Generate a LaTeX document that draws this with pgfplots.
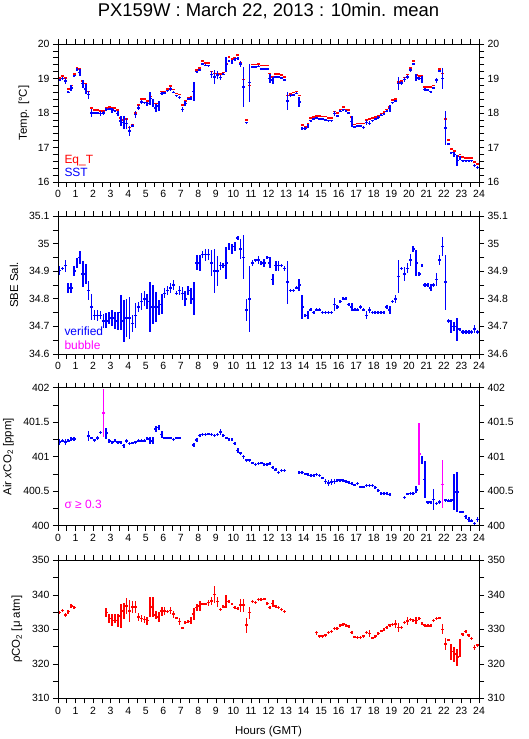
\documentclass[border=0pt]{standalone}
\usepackage{fontspec}
\setmainfont{Liberation Sans}
\usepackage{pgfplots}
\usepackage{pgfplotstable}
\pgfplotsset{compat=1.18}
\definecolor{pblue}{RGB}{0,0,255}
\definecolor{pred}{RGB}{255,0,0}
\definecolor{pmag}{RGB}{255,0,255}

\pgfplotstableread{
x sst esst eqt sal esal co2 eco2 co2m eco2m pco2 epco2
0.083 18.96 0.03 19.01 34.902 0.016 401.21 0.04 nan nan 334.8 0.4
0.250 19.00 0.03 19.07 34.91 0.006 401.23 0.02 nan nan 335.5 0.4
0.417 18.93 0.08 19.02 34.92 0.022 401.21 0.04 nan nan 334.1 0.5
0.583 18.60 0.03 18.70 34.84 0.018 401.23 0.02 nan nan 335.1 0.6
0.750 18.72 0.08 18.80 34.84 0.019 401.26 0.03 nan nan 336.8 0.5
0.917 19.08 0.03 19.13 34.90 0.018 401.26 0.03 nan nan 336.3 0.4
1.083 19.26 0.03 19.30 34.93 0.018 nan nan nan nan nan nan
1.250 19.17 0.10 19.27 34.95 0.024 nan nan nan nan nan nan
1.417 18.85 0.12 18.93 34.89 0.048 nan nan nan nan nan nan
1.583 18.70 0.15 18.85 34.89 0.036 nan nan nan nan nan nan
1.750 18.53 0.12 18.62 34.83 0.033 401.30 0.07 nan nan nan nan
1.917 18.00 0.12 18.15 34.77 0.048 401.27 0.02 nan nan nan nan
2.083 18.00 0.03 18.08 34.74 0.018 401.24 0.02 nan nan nan nan
2.250 18.00 0.03 18.08 34.74 0.020 401.27 0.03 nan nan nan nan
2.417 17.98 0.08 18.06 34.74 0.015 401.35 0.02 nan nan nan nan
2.583 18.00 0.07 18.06 34.72 0.024 nan nan 401.63 0.35 nan nan
2.750 18.10 0.05 18.15 34.72 0.027 401.34 0.08 nan nan 334.8 1.3
2.917 18.12 0.03 18.17 34.73 0.021 401.23 0.03 nan nan 333.1 1.4
3.083 18.08 0.07 18.15 34.73 0.030 401.21 0.02 nan nan 332.6 1.7
3.250 18.07 0.03 18.14 34.72 0.031 401.23 0.02 nan nan 333.1 1.4
3.417 17.98 0.07 18.08 34.72 0.033 401.21 0.02 nan nan 332.6 1.9
3.583 17.77 0.15 17.85 34.75 0.064 401.21 0.02 nan nan 333.8 3.5
3.750 17.72 0.18 17.80 34.72 0.075 401.16 0.03 nan nan 335.3 2.4
3.917 17.70 0.15 17.82 34.73 0.070 401.23 0.03 nan nan 336.7 2.4
4.083 17.48 0.15 17.58 34.73 0.076 401.19 0.02 nan nan 335.3 3.1
4.250 17.63 0.05 17.65 34.71 0.031 401.20 0.02 nan nan 336.5 1.8
4.417 17.95 0.10 18.00 34.74 0.045 401.21 0.02 nan nan 336.5 1.8
4.583 18.15 0.07 18.23 34.77 0.018 401.23 0.02 nan nan 333.6 1.2
4.750 18.32 0.05 18.40 34.79 0.030 401.23 0.02 nan nan 333.1 1.0
4.917 18.30 0.03 18.40 34.80 0.027 401.23 0.02 nan nan 332.9 1.1
5.083 18.27 0.06 18.35 34.79 0.027 401.26 0.02 nan nan 332.5 1.2
5.250 18.42 0.20 18.48 34.77 0.090 401.23 0.05 nan nan 336.5 2.9
5.417 18.28 0.12 18.38 34.78 0.070 401.23 0.05 nan nan 336.5 2.8
5.583 18.15 0.12 18.27 34.77 0.055 401.40 0.04 nan nan 334.1 1.2
5.750 18.20 0.15 18.27 34.77 0.027 401.42 0.04 nan nan 333.6 1.4
5.917 18.57 0.05 18.62 34.78 0.036 401.32 0.05 nan nan 335.3 1.3
6.083 18.58 0.03 18.62 34.82 0.018 401.27 0.02 nan nan 335.3 1.2
6.250 18.65 0.03 18.70 34.83 0.015 401.27 0.02 nan nan 335.1 0.4
6.417 18.70 0.05 18.78 34.84 0.018 401.27 0.02 nan nan 335.4 1.0
6.583 18.60 0.03 18.68 34.85 0.018 401.25 0.02 nan nan 334.4 1.0
6.750 18.50 0.03 18.57 34.82 0.008 401.27 0.02 nan nan 333.3 0.4
6.917 18.45 0.03 18.53 34.83 0.018 401.27 0.02 nan nan 332.2 1.0
7.083 18.10 0.06 18.23 34.82 0.024 nan nan nan nan 330.4 0.4
7.250 18.28 0.08 18.35 34.80 0.027 nan nan nan nan 332.0 0.4
7.417 18.40 0.03 18.45 34.83 0.017 nan nan nan nan 332.2 0.4
7.583 18.42 0.05 18.47 34.81 0.030 nan nan nan nan 332.6 1.0
7.750 18.62 0.28 18.63 34.80 0.060 401.17 0.03 nan nan 334.4 1.8
7.917 19.20 0.03 19.25 34.93 0.027 401.24 0.03 nan nan 336.3 1.1
8.083 19.25 0.03 19.30 34.93 0.030 401.31 0.02 nan nan 336.7 1.4
8.250 19.42 0.03 19.50 34.96 0.012 401.32 0.02 nan nan 337.3 0.4
8.417 19.38 0.03 19.45 34.96 0.022 401.32 0.02 nan nan 337.3 0.4
8.583 19.37 0.03 19.45 34.96 0.021 401.33 0.02 nan nan 337.7 0.9
8.750 19.12 0.10 19.20 34.93 0.048 401.32 0.02 nan nan 338.2 1.2
8.917 19.05 0.20 19.15 34.90 0.080 401.31 0.02 nan nan 340.1 2.4
9.083 19.10 0.12 19.15 34.90 0.054 401.32 0.02 nan nan 338.0 1.4
9.250 19.03 0.06 19.13 34.92 0.015 401.36 0.04 nan nan 335.8 0.4
9.417 19.12 0.03 19.17 34.92 0.009 401.31 0.02 nan nan 336.5 0.4
9.583 19.40 0.22 19.42 34.93 0.057 401.27 0.02 nan nan 338.0 1.9
9.750 19.52 0.03 19.62 34.99 0.012 401.25 0.02 nan nan 338.0 0.4
9.917 19.47 0.06 19.57 34.98 0.018 401.25 0.02 nan nan 337.3 0.4
10.083 19.55 0.03 19.60 34.99 0.015 401.19 0.02 nan nan 336.3 0.4
10.250 19.58 0.03 19.68 35.02 0.006 401.09 0.04 nan nan 336.0 0.4
10.417 19.42 0.08 19.45 34.98 0.036 401.05 0.02 nan nan 337.0 1.9
10.583 18.75 0.58 18.97 34.95 0.080 401.00 0.03 nan nan 337.0 1.9
10.750 17.72 0.03 17.80 34.76 0.040 400.95 0.02 nan nan 331.2 2.2
10.917 18.88 0.55 18.80 34.80 0.120 400.95 0.02 nan nan 334.8 1.7
11.083 19.33 0.03 19.40 34.93 0.010 400.91 0.02 nan nan 338.0 0.4
11.250 19.33 0.03 19.40 34.94 0.006 400.89 0.02 nan nan 337.8 0.4
11.417 19.35 0.03 19.42 34.94 0.015 400.90 0.02 nan nan 338.7 0.4
11.583 19.28 0.03 19.38 34.93 0.006 400.91 0.02 nan nan 338.7 0.4
11.750 19.28 0.03 19.38 34.93 0.015 400.89 0.02 nan nan 338.8 0.4
11.917 19.28 0.03 19.38 34.95 0.006 400.89 0.02 nan nan 337.5 0.4
12.083 19.00 0.12 19.15 34.93 0.020 400.90 0.02 nan nan 336.3 0.4
12.250 18.95 0.10 19.05 34.87 0.021 400.84 0.02 nan nan 337.5 1.0
12.417 19.05 0.03 19.13 34.92 0.018 400.81 0.02 nan nan 336.7 0.4
12.583 19.05 0.03 19.13 34.92 0.018 400.77 0.02 nan nan 336.3 0.4
12.750 19.02 0.03 19.10 34.92 0.006 400.80 0.02 nan nan 335.7 0.4
12.917 18.95 0.03 19.05 34.91 0.010 400.80 0.02 nan nan 335.1 0.4
13.083 18.35 0.25 18.50 34.86 0.078 nan nan nan nan nan nan
13.250 18.50 0.05 18.55 34.83 0.006 nan nan nan nan nan nan
13.417 18.52 0.03 18.60 34.83 0.006 nan nan nan nan nan nan
13.583 18.57 0.03 18.62 34.84 0.006 nan nan nan nan nan nan
13.750 18.32 0.15 18.50 34.85 0.021 400.77 0.02 nan nan nan nan
13.917 17.55 0.05 17.65 34.77 0.042 400.77 0.02 nan nan nan nan
14.083 17.55 0.03 17.60 34.74 0.006 400.75 0.02 nan nan nan nan
14.250 17.63 0.06 17.68 34.74 0.014 400.74 0.02 nan nan nan nan
14.417 17.78 0.03 17.85 34.76 0.006 400.73 0.02 nan nan nan nan
14.583 17.83 0.03 17.88 34.75 0.006 400.73 0.02 nan nan nan nan
14.750 17.85 0.03 17.92 34.76 0.006 400.74 0.02 nan nan 329.0 0.6
14.917 17.83 0.03 17.92 34.76 0.006 400.73 0.02 nan nan 328.0 0.4
15.083 17.83 0.03 17.90 34.75 0.006 400.69 0.02 nan nan 328.0 0.4
15.250 17.80 0.03 17.90 34.75 0.006 400.64 0.03 nan nan 328.3 0.4
15.417 17.78 0.03 17.85 34.75 0.006 400.62 0.04 nan nan 329.0 0.4
15.583 17.78 0.03 17.85 34.75 0.006 400.63 0.04 nan nan 329.3 0.4
15.750 17.98 0.08 18.05 34.78 0.023 400.64 0.03 nan nan 330.2 0.4
15.917 17.92 0.03 18.00 34.77 0.006 400.66 0.02 nan nan 330.2 0.4
16.083 18.05 0.03 18.10 34.79 0.006 400.66 0.02 nan nan 331.2 0.4
16.250 18.10 0.03 18.17 34.80 0.006 400.65 0.02 nan nan 331.5 0.4
16.417 18.05 0.03 18.10 34.80 0.006 400.64 0.02 nan nan 331.2 0.4
16.583 18.00 0.03 18.08 34.78 0.006 400.63 0.02 nan nan 330.9 0.4
16.750 17.75 0.15 17.88 34.77 0.013 400.61 0.02 nan nan 329.0 0.5
16.917 17.60 0.03 17.67 34.76 0.006 400.59 0.02 nan nan 327.8 0.4
17.083 17.62 0.03 17.70 34.76 0.006 400.61 0.02 nan nan 327.6 0.4
17.250 17.62 0.03 17.70 34.77 0.006 400.56 0.02 nan nan 327.6 0.4
17.417 17.58 0.03 17.70 34.76 0.006 400.56 0.02 nan nan 328.0 0.4
17.583 17.73 0.08 17.80 34.74 0.015 400.58 0.02 nan nan 329.0 0.4
17.750 17.70 0.06 17.82 34.76 0.011 400.58 0.02 nan nan 328.8 1.1
17.917 17.78 0.03 17.85 34.75 0.006 400.58 0.02 nan nan 327.5 0.4
18.083 17.83 0.03 17.88 34.75 0.006 400.55 0.02 nan nan 328.0 0.4
18.250 17.87 0.03 17.92 34.75 0.006 400.51 0.02 nan nan 328.8 0.4
18.417 17.93 0.03 17.98 34.75 0.006 400.47 0.02 nan nan 329.5 0.4
18.583 17.98 0.03 18.03 34.75 0.006 400.47 0.02 nan nan 330.0 0.4
18.750 18.05 0.03 18.10 34.77 0.006 400.47 0.02 nan nan 330.5 0.4
18.917 18.13 0.10 18.18 34.76 0.015 400.45 0.02 nan nan 331.2 0.4
19.083 18.30 0.03 18.37 34.79 0.006 nan nan nan nan 331.4 0.4
19.250 18.35 0.03 18.40 34.80 0.015 nan nan nan nan 331.5 1.2
19.417 18.85 0.18 18.90 34.88 0.060 nan nan nan nan 330.5 1.2
19.583 18.87 0.05 18.93 34.91 0.006 nan nan nan nan 330.5 0.4
19.750 18.97 0.07 19.03 34.89 0.024 400.41 0.02 nan nan 332.0 0.4
19.917 19.05 0.06 19.12 34.91 0.018 400.46 0.02 nan nan 332.4 1.1
20.083 19.25 0.06 19.30 34.94 0.021 400.47 0.02 nan nan 332.8 0.4
20.250 19.42 0.03 19.50 34.98 0.012 400.47 0.02 nan nan 332.6 0.4
20.417 19.02 0.10 19.10 34.93 0.048 400.52 0.05 nan nan 332.6 1.1
20.583 19.00 0.03 19.07 34.89 0.006 nan nan 401.04 0.45 333.1 0.4
20.750 18.98 0.10 19.08 34.92 0.006 400.95 0.06 nan nan 331.7 0.4
20.917 18.68 0.03 18.75 34.85 0.006 400.67 0.27 nan nan 331.2 0.4
21.083 18.67 0.03 18.75 34.85 0.006 400.34 0.02 nan nan 331.0 0.4
21.250 18.62 0.03 18.75 34.84 0.012 400.34 0.02 nan nan 331.0 0.4
21.417 18.73 0.03 18.80 34.85 0.006 400.38 0.15 nan nan 332.5 0.4
21.583 18.95 0.07 18.95 34.87 0.024 400.32 0.02 nan nan 333.1 0.4
21.750 19.22 0.03 19.27 34.94 0.018 400.34 0.03 nan nan 333.3 0.4
21.917 19.00 0.30 19.15 34.99 0.034 nan nan 400.60 0.35 330.0 1.4
22.083 17.57 0.50 17.82 34.86 0.100 400.37 0.02 nan nan 325.7 1.7
22.250 17.10 0.03 17.22 34.72 0.006 400.36 0.02 nan nan 326.9 0.4
22.417 16.85 0.03 16.95 34.70 0.024 400.37 0.02 nan nan 323.5 2.3
22.583 16.80 0.08 16.90 34.70 0.015 400.49 0.26 nan nan 322.8 2.2
22.750 16.62 0.15 16.75 34.69 0.042 400.49 0.29 nan nan 321.9 2.4
22.917 16.70 0.06 16.80 34.69 0.006 400.20 0.02 nan nan 324.5 2.6
23.083 16.62 0.03 16.72 34.68 0.006 400.20 0.02 nan nan 328.6 0.4
23.250 16.62 0.03 16.70 34.68 0.006 400.13 0.03 nan nan 329.3 0.4
23.417 16.62 0.03 16.70 34.68 0.006 400.09 0.03 nan nan 328.3 0.4
23.583 16.62 0.03 16.70 34.68 0.006 400.07 0.02 nan nan 327.3 0.4
23.750 16.48 0.05 16.58 34.69 0.015 400.03 0.02 nan nan 324.7 0.8
23.917 16.42 0.03 16.52 34.68 0.006 400.09 0.035 nan nan 325.4 0.4
}\data

\pgfplotsset{
  panelbase/.style={
    scale only axis, width=421bp, height=138bp, anchor=south west,
    xmin=0, xmax=24, xtick={0,1,...,24}, minor x tick num=1,
    tick align=outside, tick pos=both,
    major tick length=5bp, minor tick length=5bp,
    tick style={black, line width=0.6pt},
    axis line style={black, line width=0.8pt},
    tick label style={font=\fontsize{10.5}{12}\selectfont},
    /pgf/number format/assume math mode=true,
    /pgf/number format/1000 sep={},
    every axis y label/.style={rotate=90, anchor=center, font=\fontsize{11.5}{13}\selectfont},
  },
  rightlab/.style={hide x axis, yticklabel pos=right},
  errb/.style={color=#1, draw=none, mark=none, forget plot, error bars/.cd, x dir=both, x fixed=0.0833, y dir=both, y explicit, error mark=none, error bar style={draw=#1, solid, line width=1.5pt}},
  hbar/.style={color=#1, draw=none, mark=none, forget plot, error bars/.cd, x dir=both, x fixed=0.0833, y dir=none, error mark=none, error bar style={draw=#1, solid, line width=1.5pt}},
}

\begin{document}
\begin{tikzpicture}
\path[use as bounding box] (0,0) rectangle (529bp,739bp);
\node[anchor=base, font=\fontsize{18.5}{22}\selectfont] at (268.5bp,722.3bp) {PX159W : March 22, 2013 : 10min. mean};

% Panel 1
\begin{axis}[panelbase, at={(58bp,557bp)}, ymin=16, ymax=20, ytick={16,17,18,19,20}, minor y tick num=4,
  ylabel={Temp. [°C]}, ylabel style={at={(axis description cs:-0.0808,0.5)}}]
\addplot[hbar=pred] table[x=x,y=eqt]{\data};
\addplot[errb=pblue] table[x=x,y=sst,y error=esst]{\data};
\end{axis}
\begin{axis}[panelbase, rightlab, at={(58bp,557bp)}, ymin=16, ymax=20, ytick={16,17,18,19,20}, minor y tick num=4]
\end{axis}
\node[anchor=base west, text=pred, font=\fontsize{12}{14}\selectfont] at (61bp,575bp) {Eq\_T};
\node[anchor=base west, text=pblue, font=\fontsize{12}{14}\selectfont] at (61bp,562bp) {SST};

% Panel 2
\begin{axis}[panelbase, at={(58bp,385bp)}, ymin=34.6, ymax=35.1, ytick={34.6,34.7,34.8,34.9,35,35.1}, minor y tick num=1,
  ylabel={SBE Sal.}, ylabel style={at={(axis description cs:-0.1045,0.5)}}]
\addplot[errb=pblue] table[x=x,y=sal,y error=esal]{\data};
\end{axis}
\begin{axis}[panelbase, rightlab, at={(58bp,385bp)}, ymin=34.6, ymax=35.1, ytick={34.6,34.7,34.8,34.9,35,35.1}, minor y tick num=1]
\end{axis}
\node[anchor=base west, text=pblue, font=\fontsize{12}{14}\selectfont] at (61bp,403bp) {verified};
\node[anchor=base west, text=pmag, font=\fontsize{12}{14}\selectfont] at (61bp,389.7bp) {bubble};

% Panel 3
\begin{axis}[panelbase, at={(58bp,213.3bp)}, ymin=400, ymax=402, ytick={400,400.5,401,401.5,402}, minor y tick num=1,
  ylabel={Air \textit{x}CO\textsubscript{2} [ppm]}, ylabel style={at={(axis description cs:-0.118,0.5)}}]
\addplot[errb=pblue] table[x=x,y=co2,y error=eco2]{\data};
\addplot[errb=pmag] table[x=x,y=co2m,y error=eco2m]{\data};
\end{axis}
\begin{axis}[panelbase, rightlab, at={(58bp,213.3bp)}, ymin=400, ymax=402, ytick={400,400.5,401,401.5,402}, minor y tick num=1]
\end{axis}
\node[anchor=base west, text=pmag, font=\fontsize{12}{14}\selectfont] at (61bp,230.7bp) {σ ≥ 0.3};

% Panel 4
\begin{axis}[panelbase, at={(58bp,40.7bp)}, ymin=310, ymax=350, ytick={310,320,330,340,350}, minor y tick num=1,
  ylabel={ρCO\textsubscript{2} [μ atm]}, ylabel style={at={(axis description cs:-0.0974,0.5)}}]
\addplot[errb=pred] table[x=x,y=pco2,y error=epco2]{\data};
\end{axis}
\begin{axis}[panelbase, rightlab, at={(58bp,40.7bp)}, ymin=310, ymax=350, ytick={310,320,330,340,350}, minor y tick num=1]
\end{axis}
\node[anchor=base, font=\fontsize{11.5}{13}\selectfont] at (268.5bp,4.5bp) {Hours (GMT)};
\end{tikzpicture}
\end{document}
